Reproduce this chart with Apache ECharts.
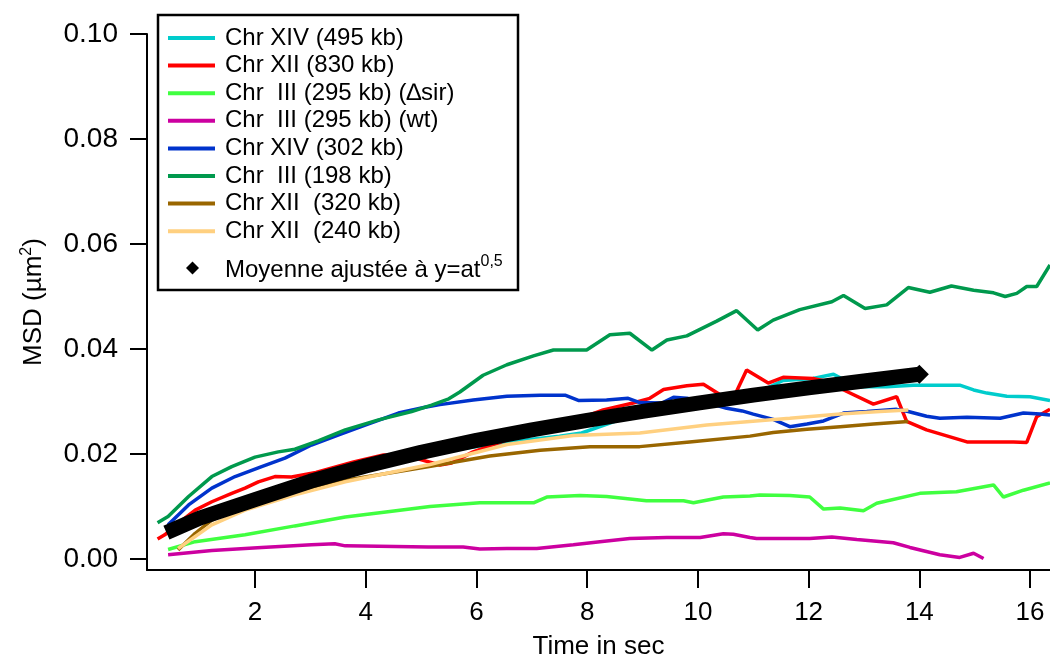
<!DOCTYPE html>
<html>
<head>
<meta charset="utf-8">
<script src="https://cdn.jsdelivr.net/npm/echarts@6/dist/echarts.min.js"></script>
<style>
  html, body { margin: 0; padding: 0; background: #fff; }
  #chart { width: 1050px; height: 657px; }
</style>
</head>
<body>
<div id="chart"></div>
<script>
// ticks
const xTicks = [2, 4, 6, 8, 10, 12, 14, 16];
const yTicks = [0, 0.02, 0.04, 0.06, 0.08, 0.10];

// series names
const names = [
  'Chr XIV (495 kb)',
  'Chr XII (830 kb)',
  'Chr  III (295 kb) (\u2206sir)',
  'Chr  III (295 kb) (wt)',
  'Chr XIV (302 kb)',
  'Chr  III (198 kb)',
  'Chr XII  (320 kb)',
  'Chr XII  (240 kb)'
];
const fitName = 'Moyenne ajustée à y=at0,5';

// [time (s), MSD (µm²)]
const xiv495 = [[0.4,0.0055],[1.0,0.0085],[2.0,0.0120],[3.0,0.0150],[4.0,0.0177],[5.0,0.0198],[6.0,0.0214],[7.0,0.0228],[7.5,0.0234],[7.9,0.0240],[8.5,0.0262],[9.0,0.0282],[9.5,0.0296],[10.0,0.0305],[10.5,0.0313],[11.0,0.0318],[11.24,0.0325],[11.54,0.0340],[12.08,0.0344],[12.45,0.0352],[12.63,0.0342],[12.93,0.0328],[13.41,0.0328],[13.89,0.0331],[14.73,0.0331],[14.98,0.0322],[15.22,0.0316],[15.58,0.0310],[16.0,0.0309],[16.36,0.0302]];
const xii830 = [[0.24,0.0038],[0.37,0.0046],[0.61,0.0068],[0.92,0.0093],[1.22,0.0109],[1.58,0.0125],[1.82,0.0135],[2.06,0.0147],[2.36,0.0157],[2.66,0.0156],[3.1,0.0165],[3.78,0.0185],[4.32,0.0198],[4.8,0.0195],[5.34,0.0179],[5.55,0.0183],[5.94,0.0204],[6.5,0.0225],[7.2,0.0245],[7.8,0.0265],[8.29,0.0284],[8.83,0.0297],[9.13,0.0306],[9.38,0.0323],[9.8,0.0330],[10.1,0.0333],[10.46,0.0309],[10.64,0.0306],[10.88,0.0360],[11.27,0.0335],[11.54,0.0346],[12.08,0.0344],[12.33,0.0338],[12.69,0.0319],[13.17,0.0295],[13.59,0.0309],[13.77,0.0262],[14.13,0.0246],[14.86,0.0223],[15.7,0.0223],[15.94,0.0222],[16.12,0.0271],[16.36,0.0285]];
const iii295sir = [[0.43,0.0018],[0.92,0.0033],[1.82,0.0046],[2.72,0.0063],[3.63,0.0080],[4.4,0.0090],[5.16,0.0100],[6.06,0.0107],[7.03,0.0107],[7.27,0.0118],[7.87,0.0121],[8.35,0.0119],[9.07,0.0111],[9.74,0.0111],[9.92,0.0107],[10.46,0.0118],[10.94,0.0120],[11.12,0.0122],[11.66,0.0121],[12.02,0.0118],[12.27,0.0095],[12.57,0.0097],[12.99,0.0092],[13.23,0.0106],[14.01,0.0125],[14.67,0.0128],[15.34,0.0141],[15.52,0.0118],[15.88,0.0131],[16.36,0.0145]];
const iii295wt = [[0.43,0.0008],[1.22,0.0016],[2.12,0.0022],[3.02,0.0027],[3.44,0.0029],[3.63,0.0025],[5.13,0.0023],[5.76,0.0023],[6.06,0.0019],[6.55,0.0020],[7.09,0.0020],[7.75,0.0027],[8.23,0.0033],[8.77,0.0039],[9.44,0.0041],[10.04,0.0041],[10.46,0.0048],[10.64,0.0047],[10.94,0.0041],[11.06,0.0039],[12.02,0.0039],[12.42,0.0042],[12.87,0.0037],[13.53,0.0031],[13.83,0.0022],[14.37,0.0008],[14.73,0.0003],[14.98,0.0011],[15.16,0.0001]];
const xiv302 = [[0.43,0.0065],[0.8,0.0103],[1.22,0.0135],[1.64,0.0157],[2.12,0.0176],[2.54,0.0192],[3.02,0.0217],[3.5,0.0236],[3.99,0.0255],[4.59,0.0278],[5.07,0.0289],[5.34,0.0294],[5.94,0.0303],[6.55,0.0310],[7.15,0.0312],[7.6,0.0312],[7.84,0.0302],[8.35,0.0303],[8.74,0.0306],[8.95,0.0298],[9.35,0.0297],[9.56,0.0308],[9.8,0.0306],[10.16,0.0298],[10.52,0.0287],[10.8,0.0282],[11.0,0.0276],[11.36,0.0266],[11.66,0.0252],[11.97,0.0257],[12.27,0.0263],[12.63,0.0278],[13.05,0.0281],[13.59,0.0285],[13.8,0.0281],[14.13,0.0272],[14.37,0.0268],[14.86,0.0270],[15.46,0.0268],[15.88,0.0278],[16.18,0.0276],[16.36,0.0274]];
const iii198 = [[0.24,0.0069],[0.43,0.0081],[0.8,0.0119],[1.22,0.0157],[1.58,0.0176],[2.0,0.0194],[2.42,0.0204],[2.72,0.0209],[3.14,0.0225],[3.63,0.0246],[4.23,0.0265],[4.83,0.0281],[5.19,0.0293],[5.5,0.0305],[5.7,0.0318],[6.12,0.0350],[6.55,0.0370],[7.03,0.0387],[7.39,0.0398],[7.99,0.0398],[8.41,0.0427],[8.77,0.0430],[9.17,0.0398],[9.44,0.0417],[9.8,0.0425],[10.34,0.0453],[10.7,0.0473],[11.08,0.0436],[11.36,0.0455],[11.84,0.0475],[12.42,0.0490],[12.63,0.0502],[13.02,0.0477],[13.41,0.0484],[13.8,0.0517],[14.19,0.0508],[14.58,0.0520],[14.98,0.0512],[15.34,0.0507],[15.55,0.0500],[15.76,0.0506],[15.94,0.0519],[16.12,0.0519],[16.36,0.0560]];
const xii320 = [[0.61,0.0017],[0.92,0.0049],[1.22,0.0074],[1.58,0.0093],[2.12,0.0112],[2.72,0.0128],[3.63,0.0150],[5.2,0.0177],[6.24,0.0196],[7.15,0.0207],[8.05,0.0214],[8.95,0.0214],[9.85,0.0223],[10.94,0.0234],[11.36,0.0241],[11.97,0.0247],[12.57,0.0252],[13.17,0.0257],[13.8,0.0262]];
const xii240 = [[0.61,0.0020],[1.22,0.0065],[1.82,0.0093],[2.72,0.0122],[3.63,0.0147],[5.16,0.0180],[6.55,0.0218],[7.75,0.0235],[8.95,0.0240],[10.16,0.0255],[10.94,0.0262],[11.66,0.0268],[12.57,0.0276],[13.29,0.0281],[13.8,0.0284]];
const fit = [[0.4,0.0050],[1.0,0.0078],[2.0,0.0113],[3.0,0.0148],[4.0,0.0177],[5.0,0.0203],[6.0,0.0226],[7.0,0.0246],[8.0,0.0264],[9.0,0.0281],[10.0,0.0297],[11.0,0.0312],[12.0,0.0326],[13.0,0.0339],[14.0,0.0352]];

const lineData = [xiv495, xii830, iii295sir, iii295wt, xiv302, iii198, xii320, xii240];
const colors = ['#00cccc', '#ff0000', '#40ff40', '#cc00a0', '#0033cc', '#00994d', '#996600', '#ffd080'];

const FONT = 'Liberation Sans, Arial, sans-serif';
const myChart = echarts.init(document.getElementById('chart'));

const series = lineData.map((d, i) => ({
  name: names[i],
  type: 'line',
  data: d,
  color: colors[i],
  showSymbol: false,
  symbol: 'none',
  lineStyle: { width: 3.5, color: colors[i] },
  emphasis: { disabled: true },
  animation: false
}));
series.push({
  name: fitName,
  type: 'line',
  data: fit,
  color: '#000',
  symbol: 'diamond',
  // only the last point shows its diamond tip
  symbolSize: (v, p) => p.dataIndex === fit.length - 1 ? 19 : 0,
  itemStyle: { color: '#000' },
  lineStyle: { width: 15, color: '#000' },
  emphasis: { disabled: true },
  z: 5,
  animation: false
});

myChart.setOption({
  backgroundColor: '#fff',
  animation: false,
  grid: { left: 147, right: 0, top: 34, bottom: 87, outerBoundsMode: 'none' },
  graphic: [{
    type: 'rect',
    z: 1,
    shape: { x: 158, y: 15, width: 360, height: 275 },
    style: { fill: '#fff', stroke: '#000', lineWidth: 2.5 }
  }],
  legend: [{
    data: names,
    orient: 'vertical',
    left: 168,
    top: 26,
    padding: 0,
    itemGap: 3.6,
    itemWidth: 47,
    itemHeight: 4,
    icon: 'rect',
    selectedMode: false,
    textStyle: { fontSize: 24, fontFamily: FONT, color: '#000', lineHeight: 22, padding: [0, 0, 0, 5] }
  }, {
    data: [{ name: fitName, icon: 'diamond' }],
    orient: 'vertical',
    left: 186,
    top: 254,
    padding: 0,
    itemWidth: 13,
    itemHeight: 13,
    selectedMode: false,
    formatter: () => '{a|Moyenne ajustée à y=at}{sup|0,5}',
    textStyle: {
      fontSize: 24, fontFamily: FONT, color: '#000', padding: [0, 0, 0, 21],
      rich: {
        a: { fontSize: 24, fontFamily: FONT, color: '#000', lineHeight: 28, verticalAlign: 'bottom' },
        sup: { fontSize: 16, fontFamily: FONT, color: '#000', lineHeight: 28, verticalAlign: 'top' }
      }
    }
  }],
  xAxis: {
    type: 'value',
    min: 0.049,
    max: 16.36,
    name: 'Time in sec',
    nameLocation: 'middle',
    nameGap: 64,
    nameTextStyle: { fontSize: 26, fontFamily: FONT, color: '#000' },
    axisLine: { show: true, onZero: false, lineStyle: { color: '#000', width: 2 } },
    axisTick: { show: true, inside: false, length: 18, lineStyle: { color: '#000', width: 2 }, customValues: xTicks },
    axisLabel: { fontSize: 26, fontFamily: FONT, color: '#000', margin: 30, customValues: xTicks },
    splitLine: { show: false }
  },
  yAxis: {
    type: 'value',
    min: -0.0021,
    max: 0.1,
    name: 'MSD (µm{sup|2})',
    nameLocation: 'middle',
    nameGap: 98,
    nameTextStyle: {
      fontSize: 26, fontFamily: FONT, color: '#000',
      rich: {
        sup: { fontSize: 16, fontFamily: FONT, color: '#000', verticalAlign: 'top', lineHeight: 30 }
      }
    },
    axisLine: { show: true, onZero: false, lineStyle: { color: '#000', width: 2 } },
    axisTick: { show: true, inside: false, length: 17, lineStyle: { color: '#000', width: 2 }, customValues: yTicks },
    axisLabel: {
      fontSize: 28, fontFamily: FONT, color: '#000', margin: 29, customValues: yTicks,
      formatter: v => v.toFixed(2)
    },
    splitLine: { show: false }
  },
  series: series
});
</script>
</body>
</html>
